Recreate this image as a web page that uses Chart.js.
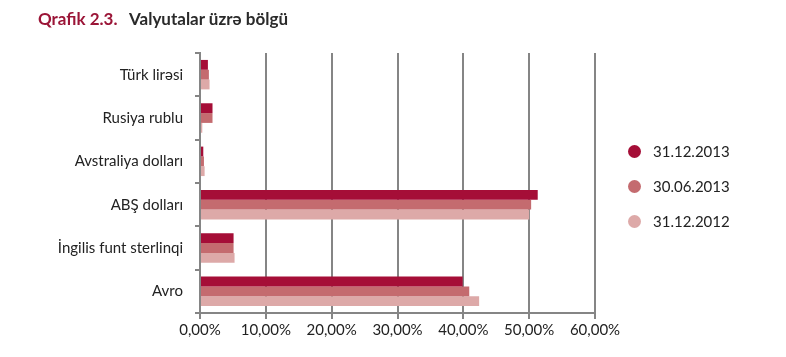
<!DOCTYPE html>
<html><head><meta charset="utf-8">
<script src="https://cdn.jsdelivr.net/npm/chart.js@4/dist/chart.umd.min.js"></script>
<style>
html,body{margin:0;padding:0;background:#fff;}
#wrap{position:relative;width:786px;height:357px;font-family:Lato,"Open Sans",sans-serif;}
#title{position:absolute;left:38px;top:8px;font-size:17px;font-weight:bold;color:#2a2a2a;white-space:nowrap;}
#title .num{color:#9b1537;margin-right:8px;}
#legend{position:absolute;left:626px;top:142px;font-size:15px;color:#222;}
#legend div{height:35px;display:flex;align-items:flex-start;}
#legend span.dot{display:inline-block;width:13px;height:13px;border-radius:50%;margin:3px 12px 0 2px;}
canvas{position:absolute;left:0;top:0;}
</style></head>
<body><div id="wrap">
<canvas id="c" width="786" height="357"></canvas>
<div id="title"><span class="num">Qrafik 2.3.</span> Valyutalar üzrə bölgü</div>
<div id="legend"></div>
</div>
<script>
const categories = ["Türk lirəsi","Rusiya rublu","Avstraliya dolları","ABŞ dolları","İngilis funt sterlinqi","Avro"];
const seriesLabels = ["31.12.2013","30.06.2013","31.12.2012"];
const s2013dec = [1.2, 1.9, 0.5, 51.3, 5.1, 39.9];
const s2013jun = [1.35, 1.9, 0.6, 50.3, 5.1, 40.9];
const s2012dec = [1.45, 0.35, 0.7, 50.0, 5.25, 42.4];
const xTicks = [0,10,20,30,40,50,60];
const colors = ["#a50e37","#c46b6f","#dda9a8"];

const series = [s2013dec, s2013jun, s2012dec];
const lg = document.getElementById('legend');
seriesLabels.forEach((l,i)=>{
  const d=document.createElement('div');
  d.innerHTML='<span class="dot" style="background:'+colors[i]+'"></span>'+l;
  lg.appendChild(d);
});

new Chart(document.getElementById('c'), {
  type:'bar',
  data:{labels:categories, datasets: series.map((s,i)=>({label:seriesLabels[i], data:s, backgroundColor:colors[i], borderWidth:0, categoryPercentage:0.68, barPercentage:1.0}))},
  options:{
    indexAxis:'y', responsive:false, animation:false,
    layout:{padding:{top:53,right:191,left:0,bottom:0}},
    plugins:{legend:{display:false}, tooltip:{enabled:false}},
    scales:{
      x:{min:0,max:60,
        afterBuildTicks:s=>{s.ticks=xTicks.map(v=>({value:v}));},
        afterFit:s=>{s.height=44;},
        ticks:{callback:v=>v.toFixed(2).replace('.',',')+'%', color:'#222', font:{family:'Lato',size:15}, padding:2, maxRotation:0},
        grid:{color:'#858585', lineWidth:2, tickLength:6},
        border:{color:'#858585', width:2}
      },
      y:{
        afterFit:s=>{s.width=200;},
        ticks:{color:'#222', font:{family:'Lato',size:15}, padding:12},
        grid:{drawOnChartArea:false, color:'#858585', lineWidth:2, tickLength:5},
        border:{color:'#858585', width:2}
      }
    }
  }
});
</script>
</body></html>
